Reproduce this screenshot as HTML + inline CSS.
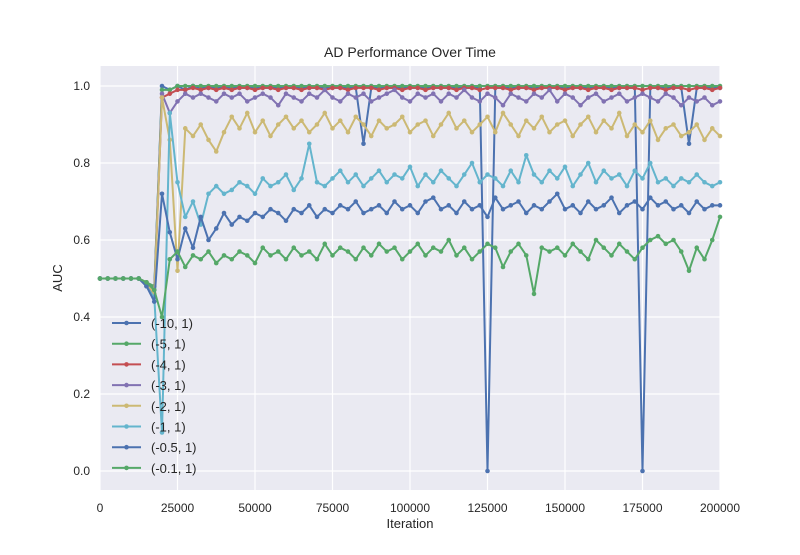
<!DOCTYPE html>
<html><head><meta charset="utf-8"><style>
body{margin:0;background:#fff;}
svg text{font-family:"Liberation Sans","DejaVu Sans",sans-serif;fill:#262626;}
</style></head><body>
<svg id="chart" width="800" height="550" xmlns="http://www.w3.org/2000/svg">
<rect x="100" y="66" width="620" height="424" fill="#EAEAF2"/>
<g id="grid"></g><g id="series"></g><g id="axes"></g><g id="legend"></g>
<text x="410" y="57" text-anchor="middle" font-size="14">AD Performance Over Time</text>
<text x="410" y="528" text-anchor="middle" font-size="13">Iteration</text>
<text x="62" y="278" text-anchor="middle" font-size="13" transform="rotate(-90 62 278)">AUC</text>
</svg>
<script>
const seriesNames=["(-10, 1)","(-5, 1)","(-4, 1)","(-3, 1)","(-2, 1)","(-1, 1)","(-0.5, 1)","(-0.1, 1)"];
const colors=["#4C72B0","#55A868","#C44E52","#8172B2","#CCB974","#64B5CD","#4C72B0","#55A868"];
const xTicks=[0,25000,50000,75000,100000,125000,150000,175000,200000];
const yTicks=[0.0,0.2,0.4,0.6,0.8,1.0];
const iterStep=2500;
const s10=[0.5,0.5,0.5,0.5,0.5,0.5,0.49,0.47,1.0,0.99,1.0,0.99,1.0,0.995,0.995,0.995,0.995,0.995,0.995,0.995,0.995,0.995,0.995,0.995,0.995,0.995,0.995,0.995,0.995,0.995,0.995,0.995,0.995,0.995,0.85,0.995,0.995,0.995,0.995,0.995,0.995,0.995,0.995,0.995,0.995,0.995,0.995,0.995,0.995,0.995,0.0,0.995,0.995,0.995,0.995,0.995,0.995,0.995,0.995,0.995,0.995,0.995,0.995,0.995,0.995,0.995,0.995,0.995,0.995,0.995,0.0,0.995,0.995,0.995,0.995,0.995,0.85,0.995,0.995,0.995,0.995];
const s5=[0.5,0.5,0.5,0.5,0.5,0.5,0.49,0.48,0.99,0.99,1.0,1.0,1.0,1.0,1.0,1.0,1.0,1.0,1.0,1.0,1.0,1.0,1.0,1.0,1.0,1.0,1.0,1.0,1.0,1.0,1.0,1.0,1.0,1.0,1.0,1.0,1.0,1.0,1.0,1.0,1.0,1.0,1.0,1.0,1.0,1.0,1.0,1.0,1.0,1.0,1.0,1.0,1.0,1.0,1.0,1.0,1.0,1.0,1.0,1.0,1.0,1.0,1.0,1.0,1.0,1.0,1.0,1.0,1.0,1.0,1.0,1.0,1.0,1.0,1.0,1.0,1.0,1.0,1.0,1.0,1.0];
const s4=[0.5,0.5,0.5,0.5,0.5,0.5,0.48,0.46,0.97,0.98,0.99,0.99,0.995,0.99,0.995,0.99,0.995,0.99,0.995,0.995,0.99,0.995,0.995,0.99,0.995,0.995,0.99,0.995,0.995,0.99,0.995,0.995,0.99,0.995,0.995,0.995,0.99,0.995,0.995,0.99,0.995,0.995,0.99,0.995,0.995,0.995,0.99,0.995,0.995,0.99,0.995,0.995,0.995,0.99,0.995,0.995,0.99,0.995,0.995,0.995,0.99,0.995,0.995,0.99,0.995,0.995,0.99,0.995,0.995,0.995,0.99,0.995,0.995,0.99,0.995,0.995,0.99,0.995,0.995,0.99,0.995];
const s3=[0.5,0.5,0.5,0.5,0.5,0.5,0.49,0.47,0.98,0.93,0.96,0.98,0.97,0.98,0.97,0.96,0.98,0.97,0.98,0.96,0.97,0.98,0.97,0.95,0.98,0.97,0.96,0.98,0.97,0.99,0.97,0.96,0.98,0.97,0.98,0.96,0.97,0.98,0.99,0.97,0.96,0.98,0.97,0.98,0.96,0.98,0.97,0.99,0.97,0.96,0.98,0.97,0.95,0.98,0.97,0.96,0.98,0.97,0.99,0.96,0.98,0.97,0.95,0.97,0.98,0.96,0.97,0.98,0.96,0.97,0.98,0.97,0.96,0.98,0.97,0.95,0.97,0.96,0.97,0.95,0.96];
const s2=[0.5,0.5,0.5,0.5,0.5,0.5,0.49,0.46,0.97,0.86,0.52,0.89,0.87,0.9,0.86,0.83,0.88,0.92,0.89,0.93,0.88,0.91,0.87,0.9,0.92,0.89,0.91,0.88,0.9,0.93,0.89,0.91,0.88,0.92,0.9,0.87,0.91,0.89,0.9,0.92,0.88,0.9,0.91,0.87,0.9,0.93,0.89,0.91,0.88,0.9,0.92,0.88,0.93,0.9,0.87,0.91,0.89,0.92,0.88,0.9,0.91,0.87,0.9,0.92,0.88,0.91,0.89,0.93,0.87,0.9,0.88,0.91,0.86,0.89,0.9,0.87,0.88,0.9,0.86,0.89,0.87];
const s1=[0.5,0.5,0.5,0.5,0.5,0.5,0.48,0.45,0.1,0.93,0.75,0.66,0.7,0.64,0.72,0.74,0.72,0.73,0.75,0.74,0.72,0.76,0.74,0.75,0.77,0.73,0.76,0.85,0.75,0.74,0.76,0.78,0.75,0.77,0.74,0.76,0.78,0.75,0.77,0.76,0.79,0.74,0.77,0.75,0.78,0.76,0.74,0.77,0.8,0.75,0.77,0.76,0.74,0.78,0.75,0.82,0.77,0.75,0.78,0.76,0.79,0.74,0.77,0.8,0.75,0.78,0.76,0.77,0.74,0.78,0.76,0.8,0.75,0.76,0.74,0.76,0.75,0.77,0.75,0.74,0.75];
const s05=[0.5,0.5,0.5,0.5,0.5,0.5,0.48,0.44,0.72,0.62,0.55,0.63,0.58,0.66,0.6,0.63,0.67,0.64,0.66,0.65,0.67,0.66,0.68,0.67,0.65,0.68,0.67,0.69,0.66,0.68,0.67,0.69,0.68,0.7,0.67,0.68,0.69,0.67,0.7,0.68,0.69,0.67,0.7,0.71,0.68,0.69,0.67,0.7,0.68,0.69,0.66,0.71,0.68,0.69,0.7,0.67,0.69,0.68,0.7,0.72,0.68,0.69,0.67,0.7,0.68,0.69,0.71,0.67,0.69,0.7,0.68,0.71,0.69,0.7,0.68,0.69,0.67,0.7,0.68,0.69,0.69];
const s01=[0.5,0.5,0.5,0.5,0.5,0.5,0.49,0.47,0.4,0.55,0.57,0.53,0.56,0.55,0.57,0.54,0.56,0.55,0.57,0.56,0.54,0.58,0.56,0.57,0.55,0.58,0.56,0.57,0.55,0.59,0.56,0.58,0.57,0.55,0.58,0.56,0.59,0.57,0.58,0.55,0.57,0.59,0.56,0.58,0.57,0.6,0.56,0.58,0.55,0.57,0.59,0.58,0.53,0.57,0.59,0.56,0.46,0.58,0.57,0.58,0.56,0.59,0.57,0.55,0.6,0.58,0.56,0.59,0.57,0.55,0.58,0.6,0.61,0.59,0.6,0.57,0.52,0.58,0.55,0.6,0.66];
const allSeries=[s10,s5,s4,s3,s2,s1,s05,s01];
const NS="http://www.w3.org/2000/svg";
const X0=100,X1=720,Y0=471,Y1=86;
function xs(v){return X0+(v/200000)*(X1-X0);}
function ys(v){return Y0+(v)*(Y1-Y0);}
function mk(tag,attrs,parent){const e=document.createElementNS(NS,tag);for(const k in attrs)e.setAttribute(k,attrs[k]);parent.appendChild(e);return e;}
const grid=document.getElementById('grid'),axes=document.getElementById('axes'),ser=document.getElementById('series'),leg=document.getElementById('legend');
xTicks.forEach(t=>{
 const l=mk('line',{x1:xs(t),x2:xs(t),y1:66,y2:490,stroke:'#fff','stroke-width':1.2},grid);
 
 
 const tx=mk('text',{x:xs(t),y:512,'text-anchor':'middle','font-size':12},axes);tx.textContent=t;
 
 
});
yTicks.forEach(t=>{
 const l=mk('line',{x1:100,x2:720,y1:ys(t),y2:ys(t),stroke:'#fff','stroke-width':1.2},grid);
 
 
 const tx=mk('text',{x:90,y:ys(t)+4,'text-anchor':'end','font-size':12},axes);tx.textContent=t.toFixed(1);
 
 
});
allSeries.forEach((d,si)=>{
 const g=mk('g',{},ser);
 
 
 const pts=d.map((v,i)=>xs(i*iterStep).toFixed(1)+','+ys(v).toFixed(1)).join(' ');
 const pl=mk('polyline',{points:pts,fill:'none',stroke:colors[si],'stroke-width':2,'stroke-linejoin':'round'},g);
 
 
 d.forEach((v,i)=>{const c=mk('circle',{cx:xs(i*iterStep),cy:ys(v),r:2.3,fill:colors[si]},g);
  
  });
});
seriesNames.forEach((n,i)=>{
 const y=323+i*20.7;
 const g=mk('g',{},leg);
 
 
 mk('line',{x1:112,x2:141,y1:y,y2:y,stroke:colors[i],'stroke-width':2},g);
 mk('circle',{cx:126.5,cy:y,r:2.3,fill:colors[i]},g);
 const t=mk('text',{x:151,y:y+5,'font-size':13},g);t.textContent=n;
});
</script>
</body></html>
